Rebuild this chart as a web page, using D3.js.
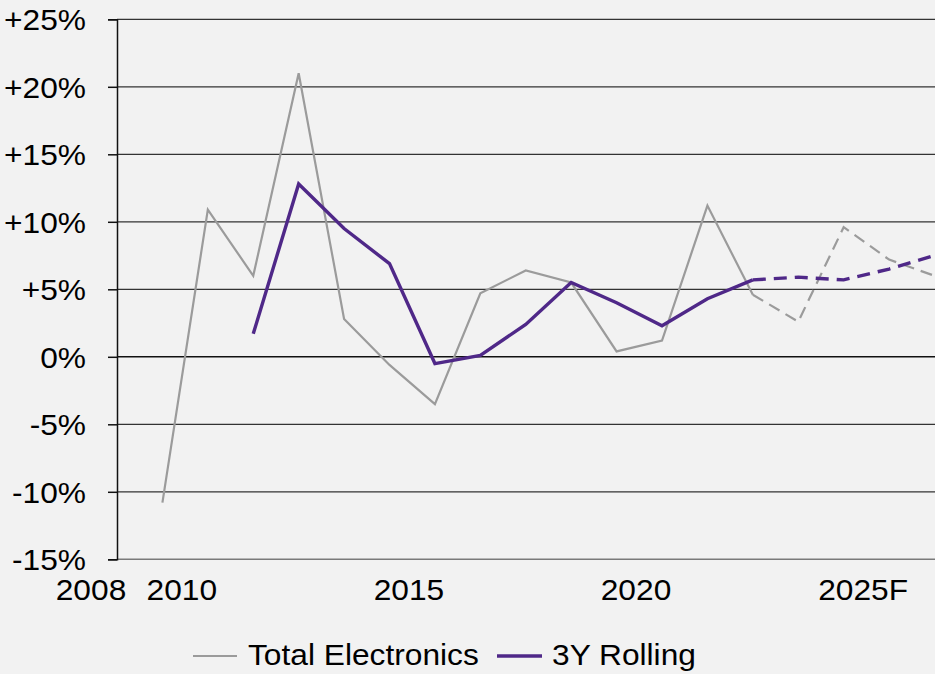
<!DOCTYPE html>
<html>
<head>
<meta charset="utf-8">
<script src="https://cdn.jsdelivr.net/npm/d3@7"></script>
<style>
  html, body { margin: 0; padding: 0; background: #f2f2f2; }
  svg { display: block; }
  text { font-family: "Liberation Sans", Arial, sans-serif; fill: #000; }
</style>
</head>
<body>
<svg id="chart" width="935" height="674"></svg>
<script>
// ---- data ----
const years = [2009, 2010, 2011, 2012, 2013, 2014, 2015, 2016, 2017, 2018, 2019, 2020, 2021, 2022, 2023, 2024, 2025, 2026];
const totalElectronics = [-10.8, 10.9, 6.0, 21.0, 2.8, -0.6, -3.5, 4.7, 6.4, 5.5, 0.4, 1.2, 11.2, 4.6, 2.6, 9.6, 7.2, 6.0];
const rollingYears = [2011, 2012, 2013, 2014, 2015, 2016, 2017, 2018, 2019, 2020, 2021, 2022, 2023, 2024, 2025, 2026];
const rolling3Y = [1.7, 12.8, 9.5, 6.9, -0.5, 0.1, 2.4, 5.5, 4.0, 2.3, 4.3, 5.7, 5.9, 5.7, 6.5, 7.5];
const forecastStart = 2022;
const xTickYears = [2008, 2010, 2015, 2020, 2025];
const xTickLabels = ["2008", "2010", "2015", "2020", "2025F"];
const yTicks = [-15, -10, -5, 0, 5, 10, 15, 20, 25];
const seriesNames = ["Total Electronics", "3Y Rolling"];

// ---- layout ----
const W = 935, H = 674;
const mLeft = 117, mRight = 934.5, mTop = 19.3, mBottom = 559.3;
const labelShift = -26; // category labels sit left of data points
const grey = "#9b9b9b", purple = "#4f2888";
const fontSize = 29.5;
const stretch = 1.075;

const svg = d3.select("#chart");
svg.append("rect").attr("width", W).attr("height", H).attr("fill", "#f2f2f2");

const x = d3.scaleLinear().domain([2008, 2026]).range([mLeft, mRight]);
const y = d3.scaleLinear().domain([-15, 25]).range([mBottom, mTop]);

function place(sel, tx, ty) {
  sel.attr("x", 0).attr("y", 0)
     .attr("transform", (d, i) => `translate(${typeof tx === "function" ? tx(d, i) : tx},${typeof ty === "function" ? ty(d, i) : ty}) scale(${stretch},1)`);
}

// gridlines
svg.append("g").selectAll("line")
  .data(yTicks.filter(t => t !== -15))
  .join("line")
  .attr("x1", mLeft).attr("x2", W)
  .attr("y1", d => y(d)).attr("y2", d => y(d))
  .attr("stroke", d => d === 0 ? "#111" : "#333")
  .attr("stroke-width", d => d === 0 ? 1.6 : 1.2);

// bottom axis line
svg.append("line")
  .attr("x1", mLeft).attr("x2", W)
  .attr("y1", y(-15)).attr("y2", y(-15))
  .attr("stroke", "#7a7a7a").attr("stroke-width", 1.6);

// y axis
const yAxis = d3.axisLeft(y).tickValues(yTicks).tickSize(9).tickPadding(13)
  .tickFormat(d => d > 0 ? "+" + d + "%" : d + "%");
const gy = svg.append("g").attr("transform", `translate(${mLeft},0)`).call(yAxis);
gy.select(".domain").attr("stroke", "#111").attr("stroke-width", 1.5);
gy.selectAll(".tick line").attr("stroke", "#111").attr("stroke-width", 1.5);
const yt = gy.selectAll(".tick text")
  .attr("font-family", "Liberation Sans, Arial, sans-serif")
  .attr("font-size", fontSize).attr("fill", "#000")
  .attr("dy", "0.35em");
place(yt, -31, 0);

// x labels
const xt = svg.append("g").selectAll("text")
  .data(xTickYears)
  .join("text")
  .attr("text-anchor", "middle")
  .attr("font-size", fontSize)
  .text((d, i) => xTickLabels[i]);
place(xt, d => x(d) + labelShift, 600);

// lines
const line = d3.line().x(d => x(d.year)).y(d => y(d.value));
const totalData = years.map((yr, i) => ({ year: yr, value: totalElectronics[i] }));
const rollData = rollingYears.map((yr, i) => ({ year: yr, value: rolling3Y[i] }));

function drawSeries(data, color, width, dash) {
  svg.append("path")
    .datum(data.filter(d => d.year <= forecastStart))
    .attr("d", line).attr("fill", "none")
    .attr("stroke", color).attr("stroke-width", width)
    .attr("stroke-linejoin", "miter");
  svg.append("path")
    .datum(data.filter(d => d.year >= forecastStart))
    .attr("d", line).attr("fill", "none")
    .attr("stroke", color).attr("stroke-width", width)
    .attr("stroke-dasharray", dash);
}
drawSeries(totalData, grey, 2.2, "12,7");
drawSeries(rollData, purple, 3.4, "13,8");

// legend
const legend = [
  { name: seriesNames[0], color: grey, w: 2.2, x1: 193, x2: 237, tx: 248 },
  { name: seriesNames[1], color: purple, w: 3.4, x1: 497, x2: 542, tx: 552 }
];
const lg = svg.append("g");
legend.forEach(l => {
  lg.append("line").attr("x1", l.x1).attr("x2", l.x2).attr("y1", 656).attr("y2", 656)
    .attr("stroke", l.color).attr("stroke-width", l.w);
  const t = lg.append("text").attr("font-size", fontSize).text(l.name);
  place(t, l.tx, 665);
});
</script>
</body>
</html>
